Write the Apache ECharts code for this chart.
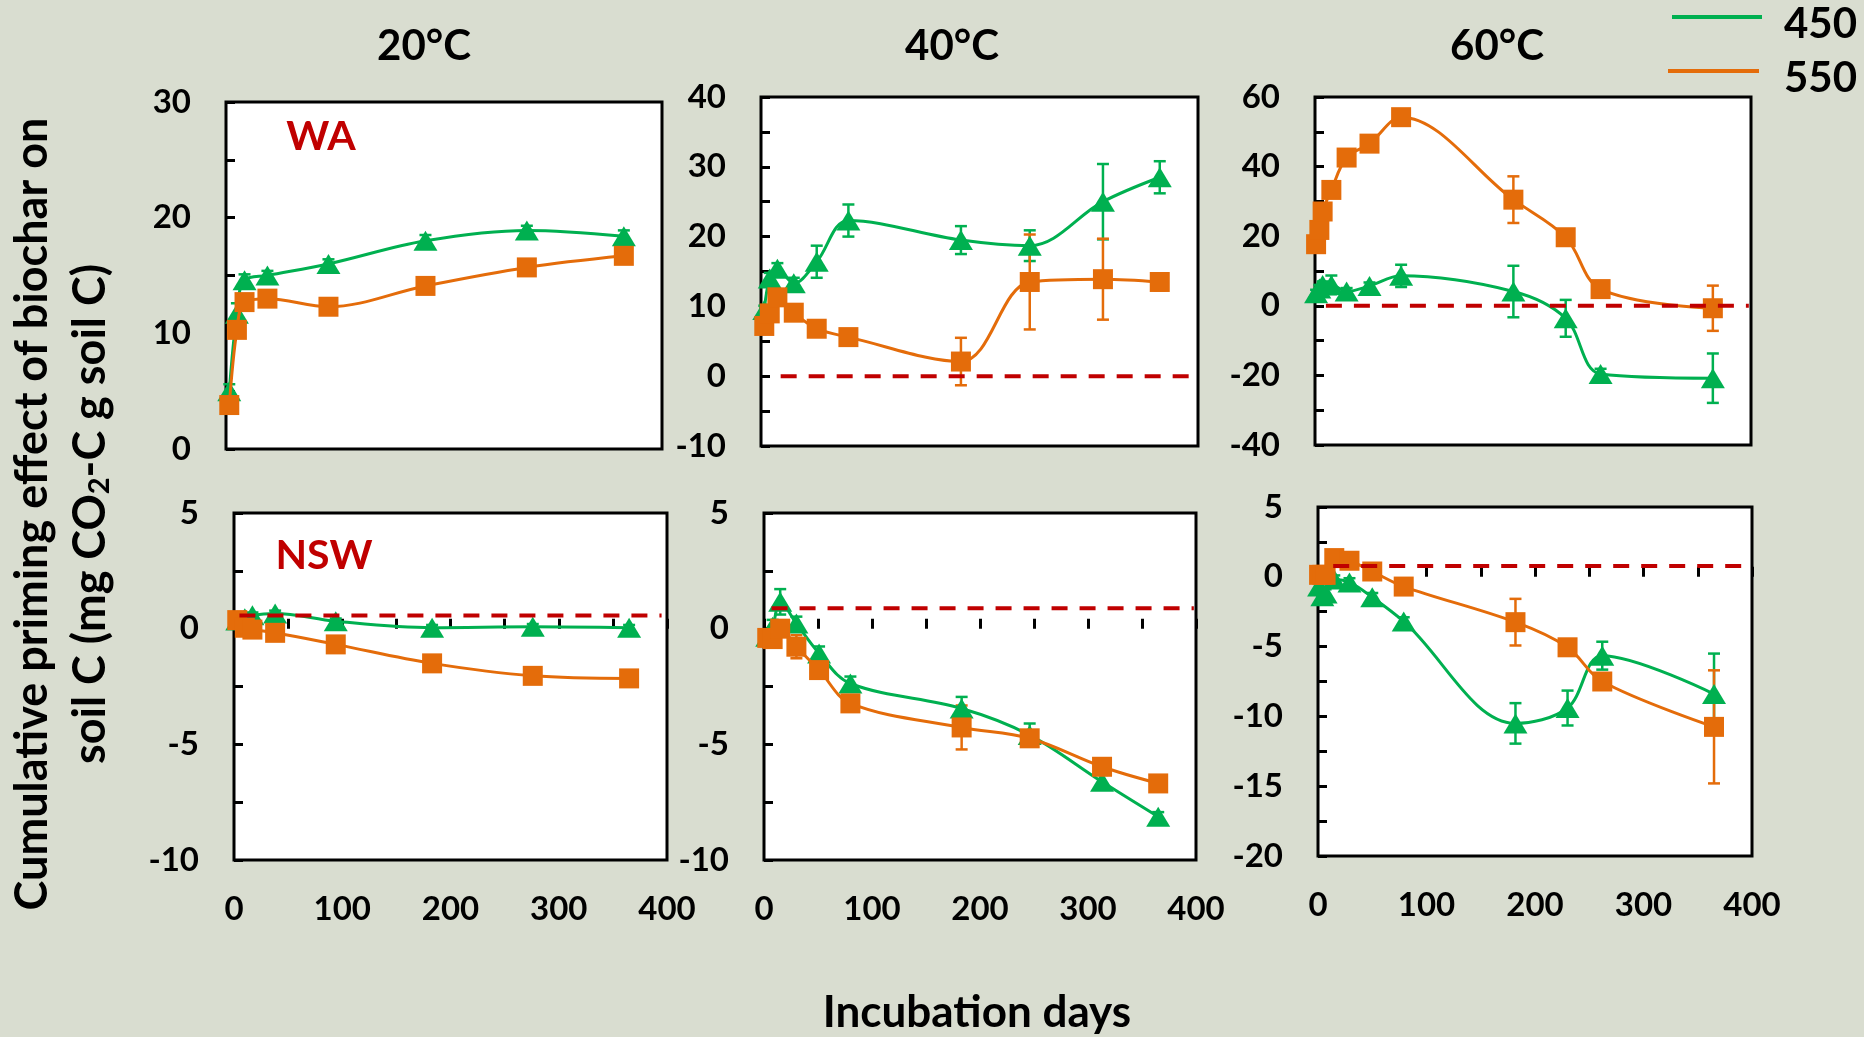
<!DOCTYPE html>
<html>
<head>
<meta charset="utf-8">
<script src="https://cdn.jsdelivr.net/npm/echarts@6/dist/echarts.min.js"></script>
<style>
html, body { margin: 0; padding: 0; background: #D9DDD0; }
#chart { width: 1864px; height: 1037px; }
</style>
</head>
<body>
<div id="chart"></div>
<script>
// Sampling days for each incubation temperature
const days20 = [3, 10, 17, 38, 94, 183, 276, 365];
const days40 = [3, 8, 15, 30, 51, 80, 183, 246, 313, 365];
const days60 = [1, 4, 7, 15, 29, 50, 79, 182, 230, 262, 365];

// WA soil, cumulative priming effect (mg CO2-C g soil C) and error
const wa20_450 = [5.0, 11.7, 14.6, 15.0, 16.0, 18.0, 18.9, 18.4];
const wa20_450err = [0.6, 0.9, 0.5, 0.4, 0.4, 0.5, 0.4, 0.5];
const wa20_550 = [3.8, 10.3, 12.7, 13.0, 12.3, 14.1, 15.7, 16.7];
const wa20_550err = [0.3, 0.4, 0.4, 0.4, 0.4, 0.4, 0.4, 0.5];

const wa40_450 = [9.5, 14.0, 15.4, 13.3, 16.4, 22.3, 19.5, 18.7, 25.0, 28.5];
const wa40_450err = [0.6, 0.8, 0.8, 0.8, 2.3, 2.3, 2.0, 2.2, 5.4, 2.3];
const wa40_550 = [7.2, 9.0, 11.3, 9.1, 6.8, 5.6, 2.1, 13.5, 13.9, 13.5];
const wa40_550err = [0.6, 0.6, 0.8, 0.8, 0.8, 0.8, 3.4, 6.8, 5.8, 1.2];

const wa60_450 = [3.6, 5.0, 6.0, 6.0, 4.1, 5.7, 8.6, 4.1, -3.6, -19.6, -20.8];
const wa60_450err = [1.0, 1.0, 1.0, 2.7, 1.0, 1.0, 3.2, 7.4, 5.3, 1.5, 7.1];
const wa60_550 = [17.7, 21.8, 27.1, 33.3, 42.6, 46.6, 54.2, 30.5, 19.7, 4.8, -0.7];
const wa60_550err = [1.0, 1.0, 1.0, 1.0, 1.5, 1.5, 2.2, 6.7, 1.0, 1.5, 6.5];

// NSW soil
const nsw20_450 = [0.35, 0.45, 0.58, 0.66, 0.32, 0.04, 0.08, 0.04];
const nsw20_450err = [0.12, 0.12, 0.12, 0.12, 0.12, 0.12, 0.12, 0.12];
const nsw20_550 = [0.37, 0.04, -0.04, -0.18, -0.68, -1.5, -2.04, -2.15];
const nsw20_550err = [0.12, 0.12, 0.12, 0.12, 0.12, 0.12, 0.12, 0.12];

const nsw40_450 = [-0.35, 0.08, 1.16, 0.22, -1.07, -2.37, -3.45, -4.6, -6.62, -8.13];
const nsw40_450err = [0.2, 0.3, 0.55, 0.3, 0.3, 0.3, 0.5, 0.5, 0.3, 0.2];
const nsw40_550 = [-0.4, -0.45, 0.0, -0.78, -1.79, -3.23, -4.27, -4.74, -5.97, -6.69];
const nsw40_550err = [0.3, 0.3, 0.3, 0.5, 0.3, 0.3, 0.95, 0.3, 0.3, 0.2];

const nsw60_450 = [-0.7, -1.4, -1.2, -0.2, -0.4, -1.46, -3.2, -10.5, -9.4, -5.65, -8.4];
const nsw60_450err = [0.3, 0.3, 0.3, 0.3, 0.3, 0.3, 0.3, 1.45, 1.25, 1.0, 2.9];
const nsw60_550 = [0.14, 0.14, 0.14, 1.34, 1.15, 0.38, -0.7, -3.25, -5.05, -7.5, -10.75];
const nsw60_550err = [0.3, 0.3, 0.3, 0.3, 0.3, 0.3, 0.3, 1.67, 0.3, 0.3, 4.05];

// Dashed reference lines: [start day, end day, level]
const refWA40 = [18, 406, 0];
const refWA60 = [10, 398, 0];
const refNSW20 = [5, 395, 0.57];
const refNSW40 = [7, 398, 0.88];
const refNSW60 = [14, 401, 0.78];

const temperatures = ['20°C', '40°C', '60°C'];
const soils = ['WA', 'NSW'];
const seriesNames = ['450', '550'];

const FONT = 'Lato, "Open Sans", sans-serif';
const GREEN = '#00B050';
const ORANGE = '#E46C0A';
const RED = '#C00000';

const panels = [
  { rect: [226, 102, 436, 347], y: [0, 30, 5, 10], xLab: false, days: days20,
    a: wa20_450, ae: wa20_450err, b: wa20_550, be: wa20_550err, ref: null },
  { rect: [761, 97, 437, 349], y: [-10, 40, 5, 10], xLab: false, days: days40,
    a: wa40_450, ae: wa40_450err, b: wa40_550, be: wa40_550err, ref: refWA40 },
  { rect: [1315, 97, 436, 348], y: [-40, 60, 10, 20], xLab: false, days: days60,
    a: wa60_450, ae: wa60_450err, b: wa60_550, be: wa60_550err, ref: refWA60 },
  { rect: [234, 513, 433, 347], y: [-10, 5, 2.5, 5], xLab: true, days: days20,
    a: nsw20_450, ae: nsw20_450err, b: nsw20_550, be: nsw20_550err, ref: refNSW20 },
  { rect: [764, 513, 432, 347], y: [-10, 5, 2.5, 5], xLab: true, days: days40,
    a: nsw40_450, ae: nsw40_450err, b: nsw40_550, be: nsw40_550err, ref: refNSW40 },
  { rect: [1318, 507, 434, 349], y: [-20, 5, 2.5, 5], xLab: true, days: days60,
    a: nsw60_450, ae: nsw60_450err, b: nsw60_550, be: nsw60_550err, ref: refNSW60 }
];

const grids = [], xAxes = [], yAxes = [], series = [];

function errorBars(i, days, vals, errs, color) {
  return {
    type: 'custom', xAxisIndex: i, yAxisIndex: i, z: 3, silent: true, clip: false,
    data: days.map((d, k) => [d, vals[k], errs[k]]),
    renderItem: function (params, api) {
      const x = api.value(0), y = api.value(1), e = api.value(2);
      const p1 = api.coord([x, y + e]);
      const p2 = api.coord([x, y - e]);
      const w = 6;
      const st = { stroke: color, lineWidth: 2.5 };
      return {
        type: 'group',
        children: [
          { type: 'line', shape: { x1: p1[0], y1: p1[1], x2: p2[0], y2: p2[1] }, style: st },
          { type: 'line', shape: { x1: p1[0] - w, y1: p1[1], x2: p1[0] + w, y2: p1[1] }, style: st },
          { type: 'line', shape: { x1: p2[0] - w, y1: p2[1], x2: p2[0] + w, y2: p2[1] }, style: st }
        ]
      };
    }
  };
}

panels.forEach((p, i) => {
  grids.push({
    left: p.rect[0], top: p.rect[1], width: p.rect[2], height: p.rect[3],
    show: true, backgroundColor: '#FFFFFF', borderColor: '#000000', borderWidth: 3
  });
  const labStep = p.y[3];
  yAxes.push({
    type: 'value', gridIndex: i, min: p.y[0], max: p.y[1], interval: p.y[2],
    axisLine: { show: false },
    splitLine: { show: false },
    axisTick: { show: true, inside: true, length: 9, lineStyle: { color: '#000', width: 3 } },
    axisLabel: {
      margin: 35, color: '#000', fontFamily: FONT, fontWeight: 'bold', fontSize: 33,
      formatter: v => (Math.abs(Math.round(v / labStep) * labStep - v) < 1e-6 ? String(v) : '')
    }
  });
  xAxes.push({
    type: 'value', gridIndex: i, min: 0, max: 400, interval: 50,
    axisLine: { show: false },
    splitLine: { show: false },
    axisTick: { show: p.xLab, inside: true, length: 10, lineStyle: { color: '#000', width: 3 } },
    axisLabel: {
      show: p.xLab, margin: 33, color: '#000', fontFamily: FONT, fontWeight: 'bold', fontSize: 33,
      formatter: v => (v % 100 === 0 ? String(v) : '')
    }
  });

  series.push(errorBars(i, p.days, p.a, p.ae, GREEN));
  series.push(errorBars(i, p.days, p.b, p.be, ORANGE));
  series.push({
    type: 'line', name: seriesNames[0], xAxisIndex: i, yAxisIndex: i, z: 4, clip: false,
    data: p.days.map((d, k) => [d, p.a[k]]),
    smooth: 0.35, symbol: 'triangle', symbolSize: [24, 20],
    lineStyle: { color: GREEN, width: 3 }, itemStyle: { color: GREEN }
  });
  series.push({
    type: 'line', name: seriesNames[1], xAxisIndex: i, yAxisIndex: i, z: 5, clip: false,
    data: p.days.map((d, k) => [d, p.b[k]]),
    smooth: 0.35, symbol: 'rect', symbolSize: 20,
    lineStyle: { color: ORANGE, width: 3 }, itemStyle: { color: ORANGE }
  });
  if (p.ref) {
    series.push({
      type: 'line', xAxisIndex: i, yAxisIndex: i, z: 6, clip: false, silent: true,
      data: [[p.ref[0], p.ref[2]], [p.ref[1], p.ref[2]]],
      symbol: 'none',
      lineStyle: { color: RED, width: 4, type: [16, 12] }
    });
  }
});

function label(text, x, y, size, color, extra) {
  return Object.assign({
    type: 'text', x: x, y: y, silent: true,
    style: {
      text: text, fill: color || '#000',
      font: 'bold ' + size + 'px ' + FONT,
      align: 'center', verticalAlign: 'middle',
      textAlign: 'center', textVerticalAlign: 'middle'
    }
  }, extra || {});
}

const graphic = [
  label(temperatures[0], 424, 46, 42),
  label(temperatures[1], 952, 46, 42),
  label(temperatures[2], 1497, 46, 42),
  label(soils[0], 321, 137, 41, RED),
  label(soils[1], 324, 556, 41, RED),
  label('Incubation days', 977, 1013, 44),
  label('Cumulative priming effect of biochar on', 32, 514, 45, '#000', { rotation: Math.PI / 2 }),
  {
    type: 'text', x: 90, y: 514, rotation: Math.PI / 2, silent: true,
    style: {
      text: 'soil C (mg CO{sub|2}-C g soil C)',
      fill: '#000', font: 'bold 45px ' + FONT,
      align: 'center', verticalAlign: 'middle',
      textAlign: 'center', textVerticalAlign: 'middle',
      lineHeight: 48,
      rich: {
        sub: { fontSize: 29, fontWeight: 'bold', fontFamily: FONT, fill: '#000', lineHeight: 22, verticalAlign: 'bottom' }
      }
    }
  },
  // legend
  { type: 'line', silent: true, shape: { x1: 1672, y1: 17, x2: 1762, y2: 17 }, style: { stroke: GREEN, lineWidth: 4 } },
  { type: 'line', silent: true, shape: { x1: 1668, y1: 71, x2: 1759, y2: 71 }, style: { stroke: ORANGE, lineWidth: 4 } },
  {
    type: 'text', x: 1784, y: 24, silent: true,
    style: { text: seriesNames[0], fill: '#000', font: 'bold 42px ' + FONT, align: 'left', verticalAlign: 'middle', textAlign: 'left', textVerticalAlign: 'middle' }
  },
  {
    type: 'text', x: 1784, y: 78, silent: true,
    style: { text: seriesNames[1], fill: '#000', font: 'bold 42px ' + FONT, align: 'left', verticalAlign: 'middle', textAlign: 'left', textVerticalAlign: 'middle' }
  }
];

const chart = echarts.init(document.getElementById('chart'), null, { renderer: 'canvas' });
chart.setOption({
  backgroundColor: '#D9DDD0',
  animation: false,
  grid: grids,
  xAxis: xAxes,
  yAxis: yAxes,
  series: series,
  graphic: graphic
});
</script>
</body>
</html>
